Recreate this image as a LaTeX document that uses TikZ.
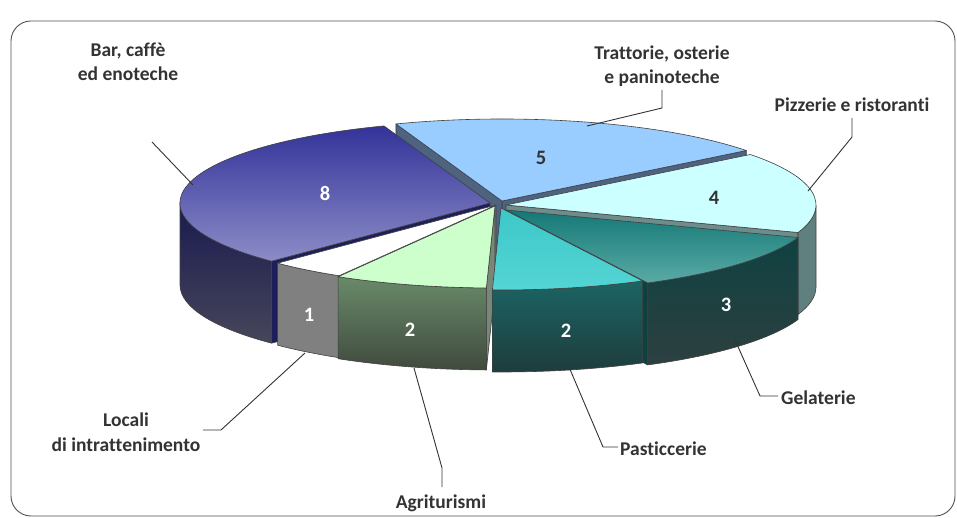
\documentclass[tikz,border=0pt]{standalone}
\usepackage{fontspec}
\setmainfont{Carlito}[Ligatures=NoCommon]
\definecolor{txt}{RGB}{51,51,51}
\definecolor{pieline}{RGB}{64,64,64}
\definecolor{leadc}{RGB}{51,51,51}
\definecolor{framec}{RGB}{80,80,80}
\definecolor{trT}{RGB}{153,204,255}
\definecolor{trS}{RGB}{77,99,128}
\definecolor{barT1}{RGB}{51,51,153}
\definecolor{barT2}{RGB}{140,140,200}
\definecolor{barW1}{RGB}{26,26,80}
\definecolor{barW2}{RGB}{70,70,90}
\definecolor{barF}{RGB}{30,30,90}
\definecolor{piT}{RGB}{204,255,255}
\definecolor{piW}{RGB}{95,128,126}
\definecolor{piF}{RGB}{110,140,140}
\definecolor{geT1}{RGB}{20,120,118}
\definecolor{geT2}{RGB}{90,170,165}
\definecolor{geW1}{RGB}{15,65,65}
\definecolor{geW2}{RGB}{45,64,64}
\definecolor{geF}{RGB}{15,64,64}
\definecolor{paT1}{RGB}{60,200,200}
\definecolor{paT2}{RGB}{85,212,212}
\definecolor{paW1}{RGB}{28,100,100}
\definecolor{paW2}{RGB}{30,60,60}
\definecolor{agT}{RGB}{204,255,204}
\definecolor{agW1}{RGB}{105,138,105}
\definecolor{agW2}{RGB}{64,74,62}
\definecolor{agF}{RGB}{120,135,120}
\definecolor{loW}{RGB}{128,128,128}
\newcommand\PTop[3]{\path[pieedge,#3] (0,0) -- (#1:310 and 82) arc[start angle=#1,end angle=#2,x radius=310,y radius=82] -- cycle;}
\newcommand\PWall[3]{\path[pieedge,#3] (#1:310 and 82) arc[start angle=#1,end angle=#2,x radius=310,y radius=82] -- ++(0,-82) arc[start angle=#2,end angle=#1,x radius=310,y radius=82] -- cycle;}
\newcommand\PFace[2]{\path[pieedge,#2] (0,0) -- (#1:310 and 82) -- ++(0,-82) -- (0,-82) -- cycle;}
\begin{document}
\begin{tikzpicture}[x=1pt,y=1pt,
  font=\fontsize{19.5}{24.5}\selectfont\bfseries,
  pieedge/.style={draw=pieline,line width=0.6pt,line join=round},
  leadline/.style={draw=leadc,line width=0.9pt},
  lbl/.style={text=txt,align=center,inner sep=0pt},
  numlbl/.style={text=white,inner sep=0pt,font=\fontsize{20.5}{24}\selectfont\bfseries},
  numdark/.style={text=txt,inner sep=0pt,font=\fontsize{20.5}{24}\selectfont\bfseries}]
\useasboundingbox (0,0) rectangle (957,517);
\draw[framec,line width=0.9pt,rounded corners=20pt] (11,1) rectangle (955,496);
\begin{scope}[shift={(498,312)}]
  % Trattorie
  \begin{scope}[shift={(4,4)}]
    \PFace{38}{fill=trS}
    \PFace{110}{fill=trS}
    \PTop{38}{110}{fill=trT}
  \end{scope}
  % Bar
  \begin{scope}[shift={(-8,2)}]
    \PFace{225.2}{fill=barF}
    \PWall{180}{225.2}{top color=barW1,bottom color=barW2}
    \PTop{110}{225.2}{top color=barT1,bottom color=barT2}
  \end{scope}
  % Pizzerie
  \begin{scope}[shift={(8,0)}]
    \PFace{340.4}{fill=piF}
    \PWall{340.4}{360}{fill=piW}
    \PTop{340.4}{398}{fill=piT}
  \end{scope}
  % Gelaterie
  \begin{scope}[shift={(8,-5)}]
    \PFace{297.2}{fill=geF}
    \PWall{297.2}{340.4}{top color=geW1,bottom color=geW2}
    \PTop{297.2}{340.4}{top color=geT1,bottom color=geT2}
  \end{scope}
  % Locali
  \begin{scope}[shift={(-2,0)}]
    \PFace{239.6}{fill=loW}
    \PWall{225.2}{239.6}{fill=loW}
    \PTop{225.2}{239.6}{fill=white}
  \end{scope}
  % Agriturismi
  \begin{scope}[shift={(-3,-1)}]
    \PFace{268.4}{fill=agF}
    \PWall{239.6}{268.4}{top color=agW1,bottom color=agW2}
    \PTop{239.6}{268.4}{fill=agT}
  \end{scope}
  % Pasticcerie
  \begin{scope}[shift={(3,-3)}]
    \PWall{268.4}{297.2}{top color=paW1,bottom color=paW2}
    \PTop{268.4}{297.2}{top color=paT1,bottom color=paT2}
  \end{scope}
\end{scope}
% values
\node[numlbl] (n8) at (325,324) {8};
\node[numdark] (n5) at (541,359) {5};
\node[numdark] (n4) at (714,319) {4};
\node[numlbl] (n3) at (726,212) {3};
\node[numlbl] (n2a) at (566,186) {2};
\node[numlbl] (n2b) at (410,187) {2};
\node[numlbl] (n1) at (309,202) {1};
% category labels
\node[lbl] (lBar) at (128,455) {Bar, caffè\\ed enoteche};
\node[lbl] (lTr) at (662,451) {Trattorie, osterie\\e paninoteche};
\node[lbl] (lPi) at (852,412) {Pizzerie e ristoranti};
\node[lbl,anchor=west] (lGe) at (781,119) {Gelaterie};
\node[lbl,anchor=west] (lPa) at (620,68) {Pasticcerie};
\node[lbl] (lAg) at (441,14) {Agriturismi};
\node[lbl] (lLo) at (126,85) {Locali\\di intrattenimento};
% leader lines
\coordinate (bA) at (193,332); \coordinate (bB) at (152,375);
\coordinate (tA) at (587,391); \coordinate (tB) at (662,409); \coordinate (tC) at (662,427);
\coordinate (pA) at (808,326); \coordinate (pB) at (852,380); \coordinate (pC) at (852,399);
\coordinate (gA) at (735,177); \coordinate (gB) at (760,121); \coordinate (gC) at (778,121);
\coordinate (sA) at (569,150); \coordinate (sB) at (603,70); \coordinate (sC) at (618,70);
\coordinate (aA) at (414,149); \coordinate (aB) at (442,49); \coordinate (aC) at (442,30);
\coordinate (lA) at (305,164); \coordinate (lB) at (221,87); \coordinate (lC) at (203,87);
\draw[leadline] (bA) -- (bB);
\draw[leadline] (tA) -- (tB) -- (tC);
\draw[leadline] (pA) -- (pB) -- (pC);
\draw[leadline] (gA) -- (gB) -- (gC);
\draw[leadline] (sA) -- (sB) -- (sC);
\draw[leadline] (aA) -- (aB) -- (aC);
\draw[leadline] (lA) -- (lB) -- (lC);
\end{tikzpicture}
\end{document}
